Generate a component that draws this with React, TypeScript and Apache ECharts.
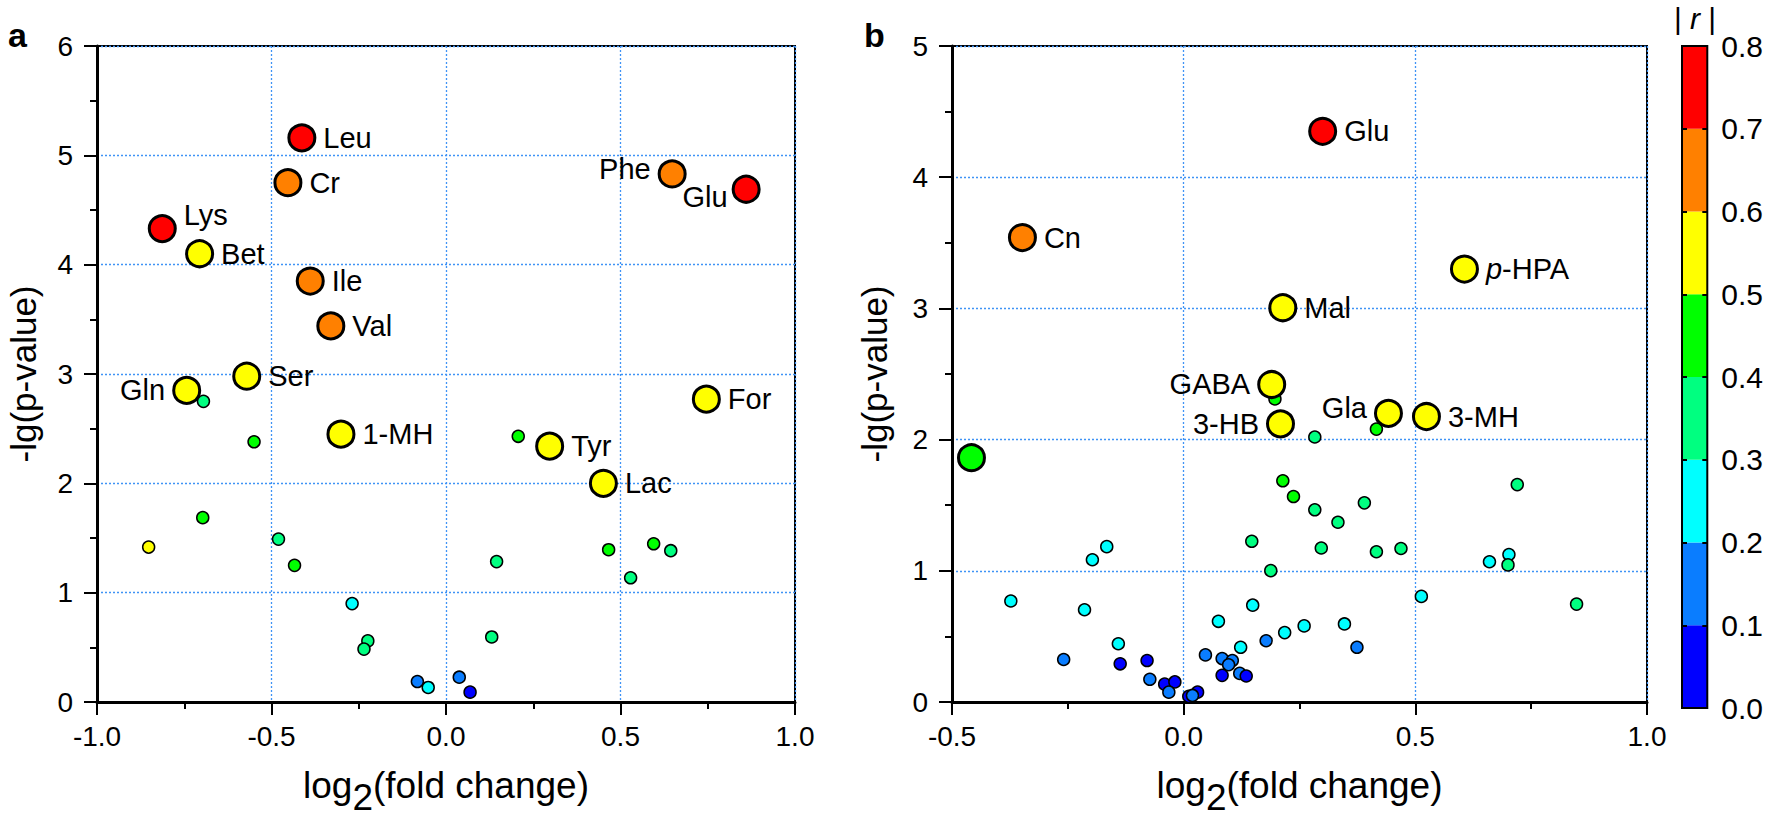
import React, { useEffect, useRef } from "react";
import * as echarts from "echarts";

const FONT = "'Liberation Sans', Arial, Helvetica, sans-serif";
const GRID_COLOR = "#3f93f5";

// colour bins of |r| (0.0 - 0.8, step 0.1)
const BIN_COLORS = ["#0000ff", "#0a7dff", "#00ffff", "#00ff80", "#00ff00", "#ffff00", "#ff8000", "#ff0000"];
const BIN_STEPS = [0.1, 0.1, 0.1, 0.1, 0.1, 0.1, 0.1, 0.1];

// ---------- panel a ----------
const aBigNames = ["Leu", "Cr", "Lys", "Bet", "Ile", "Val", "Ser", "Gln", "1-MH", "Tyr", "Lac", "For", "Phe", "Glu"];
const aBigX = [-0.413, -0.453, -0.813, -0.706, -0.389, -0.33, -0.571, -0.743, -0.301, 0.297, 0.451, 0.746, 0.648, 0.86];
const aBigY = [5.16, 4.75, 4.33, 4.1, 3.85, 3.44, 2.98, 2.85, 2.45, 2.34, 2.0, 2.77, 4.83, 4.69];
const aBigR = [0.75, 0.65, 0.75, 0.55, 0.65, 0.65, 0.55, 0.55, 0.55, 0.55, 0.55, 0.55, 0.65, 0.75];

const aSmallX = [-0.695, -0.55, 0.207, -0.697, -0.852, -0.48, -0.434, 0.145, 0.466, 0.595, 0.644, 0.529, -0.269, -0.224, -0.235, 0.131, -0.082, -0.051, 0.038, 0.069];
const aSmallY = [2.75, 2.38, 2.43, 1.686, 1.417, 1.49, 1.25, 1.284, 1.393, 1.447, 1.384, 1.136, 0.9, 0.559, 0.484, 0.595, 0.187, 0.133, 0.227, 0.09];
const aSmallR = [0.35, 0.45, 0.45, 0.45, 0.55, 0.35, 0.45, 0.35, 0.45, 0.45, 0.35, 0.35, 0.25, 0.35, 0.35, 0.35, 0.15, 0.25, 0.15, 0.05];

// ---------- panel b ----------
const bBigNames = ["Glu", "Cn", "p-HPA", "Mal", "GABA", "3-HB", "Gla", "3-MH", ""];
const bBigX = [0.3, -0.348, 0.606, 0.214, 0.19, 0.209, 0.442, 0.524, -0.458];
const bBigY = [4.35, 3.54, 3.3, 3.005, 2.42, 2.12, 2.2, 2.176, 1.862];
const bBigR = [0.75, 0.65, 0.55, 0.55, 0.55, 0.55, 0.55, 0.55, 0.45];

const bSmallX = [-0.373, -0.197, -0.166, -0.214, -0.141, -0.259, -0.137, -0.079, -0.073, -0.041, -0.019, -0.032, 0.011, 0.03, 0.019, 0.047, 0.083, 0.105, 0.097, 0.083, 0.121, 0.135, 0.123, 0.075, 0.149, 0.178, 0.218, 0.26, 0.347, 0.374, 0.147, 0.188, 0.214, 0.237, 0.283, 0.333, 0.297, 0.39, 0.416, 0.469, 0.513, 0.283, 0.416, 0.197, 0.72, 0.66, 0.702, 0.7, 0.848];
const bSmallY = [0.77, 1.084, 1.184, 0.703, 0.444, 0.324, 0.291, 0.316, 0.173, 0.136, 0.153, 0.075, 0.043, 0.075, 0.05, 0.359, 0.331, 0.316, 0.284, 0.203, 0.218, 0.198, 0.417, 0.615, 0.738, 0.467, 0.529, 0.58, 0.595, 0.417, 1.225, 1.001, 1.686, 1.566, 1.465, 1.37, 1.174, 1.518, 1.145, 1.17, 0.805, 2.02, 2.08, 2.31, 1.657, 1.069, 1.124, 1.045, 0.746];
const bSmallR = [0.25, 0.25, 0.25, 0.25, 0.25, 0.15, 0.05, 0.05, 0.15, 0.05, 0.05, 0.15, 0.05, 0.05, 0.15, 0.15, 0.15, 0.15, 0.15, 0.05, 0.15, 0.05, 0.25, 0.25, 0.25, 0.15, 0.25, 0.25, 0.25, 0.15, 0.35, 0.35, 0.45, 0.45, 0.35, 0.35, 0.35, 0.35, 0.35, 0.35, 0.25, 0.35, 0.45, 0.45, 0.35, 0.25, 0.25, 0.35, 0.35];

// label placement (layout only)
const A_PLACE: Record<string, string> = { Lys: "rightUp", Gln: "left", Phe: "leftUp", Glu: "leftDown" };
const B_PLACE: Record<string, string> = { GABA: "left", "3-HB": "left", Gla: "leftUp" };

function colorOf(r: number): string {
  const i = Math.max(0, Math.min(BIN_COLORS.length - 1, Math.floor(r * 10 + 1e-9)));
  return BIN_COLORS[i];
}

function labelFor(name: string, place: string | undefined) {
  const base: any = {
    show: name !== "",
    fontSize: 29,
    fontFamily: FONT,
    color: "#000",
    distance: 7,
    formatter: name === "p-HPA" ? "{i|p}{n|-HPA}" : name,
    rich: {
      i: { fontSize: 29, fontFamily: FONT, fontStyle: "italic", color: "#000" },
      n: { fontSize: 29, fontFamily: FONT, color: "#000" },
    },
  };
  switch (place) {
    case "left":
      return { ...base, position: "left" };
    case "leftUp":
      return { ...base, position: "left", offset: [0, -5] };
    case "leftDown":
      return { ...base, position: "left", offset: [3, 8] };
    case "rightUp":
      return { ...base, position: "right", offset: [0, -14] };
    default:
      return { ...base, position: "right" };
  }
}

function bigData(names: string[], xs: number[], ys: number[], rs: number[], places: Record<string, string>) {
  return names.map((n, i) => ({ name: n, value: [xs[i], ys[i], rs[i]], label: labelFor(n, places[n]) }));
}
function smallData(xs: number[], ys: number[], rs: number[]) {
  return xs.map((x, i) => [x, ys[i], rs[i]]);
}

const tickStyle = { color: "#000", width: 2 };

function xAxisFor(gridIndex: number, min: number, max: number) {
  return {
    gridIndex,
    type: "value",
    min,
    max,
    interval: 0.5,
    axisLine: { onZero: false, lineStyle: { color: "#000", width: 3 } },
    axisTick: { length: 13, lineStyle: tickStyle },
    minorTick: { show: true, splitNumber: 2, length: 7, lineStyle: tickStyle },
    axisLabel: { fontSize: 28, color: "#000", fontFamily: FONT, margin: 20, formatter: (v: number) => v.toFixed(1) },
    splitLine: { show: true, lineStyle: { color: GRID_COLOR, type: [2, 2], width: 1.3 } },
    name: "{a|log}{s|2}{a|(fold change)}",
    nameLocation: "middle",
    nameGap: 65,
    nameTextStyle: {
      rich: {
        a: { fontSize: 37, fontFamily: FONT, color: "#000", verticalAlign: "top", lineHeight: 49 },
        s: { fontSize: 37, fontFamily: FONT, color: "#000", verticalAlign: "bottom", lineHeight: 49 },
      },
    },
  };
}

function yAxisFor(gridIndex: number, max: number, gap: number) {
  return {
    gridIndex,
    type: "value",
    min: 0,
    max,
    interval: 1,
    axisLine: { onZero: false, lineStyle: { color: "#000", width: 3 } },
    axisTick: { length: 13, lineStyle: tickStyle },
    minorTick: { show: true, splitNumber: 2, length: 7, lineStyle: tickStyle },
    axisLabel: { fontSize: 28, color: "#000", fontFamily: FONT, margin: 24 },
    splitLine: { show: true, lineStyle: { color: GRID_COLOR, type: [2, 2], width: 1.3 } },
    name: "-lg(p-value)",
    nameLocation: "middle",
    nameRotate: 90,
    nameGap: gap,
    nameTextStyle: { fontSize: 35, fontFamily: FONT, color: "#000" },
  };
}

export default function App() {
  const ref = useRef<HTMLDivElement>(null);
  useEffect(() => {
    document.body.style.margin = "0";
    if (!ref.current) return;
    const chart = echarts.init(ref.current, undefined, { renderer: "svg" });

    const smallSeries = (xi: number, xs: number[], ys: number[], rs: number[]) => ({
      type: "scatter",
      xAxisIndex: xi,
      yAxisIndex: xi,
      symbolSize: 12,
      data: smallData(xs, ys, rs),
      itemStyle: { color: (p: any) => colorOf(p.value[2]), borderColor: "#000", borderWidth: 1.5, opacity: 1 },
      z: 3,
    });
    const bigSeries = (xi: number, data: any[]) => ({
      type: "scatter",
      xAxisIndex: xi,
      yAxisIndex: xi,
      symbolSize: 26,
      data,
      itemStyle: { color: (p: any) => colorOf(p.value[2]), borderColor: "#000", borderWidth: 3, opacity: 1 },
      z: 4,
    });

    const barSeries = BIN_COLORS.map((c, i) => ({
      type: "bar",
      xAxisIndex: 2,
      yAxisIndex: 2,
      stack: "cb",
      barWidth: "100%",
      silent: true,
      data: [BIN_STEPS[i]],
      itemStyle: { color: c },
      z: 2,
    }));

    const option: any = {
      animation: false,
      backgroundColor: "#fff",
      grid: [
        { left: 97, right: 971, top: 46, bottom: 111, show: true, borderColor: "#000", borderWidth: 2, backgroundColor: "transparent" },
        { left: 952, right: 119, top: 46, bottom: 111, show: true, borderColor: "#000", borderWidth: 2, backgroundColor: "transparent" },
        { left: 1682, width: 27, top: 46, bottom: 113, show: true, borderColor: "#000", borderWidth: 2, backgroundColor: "transparent", z: 5 },
      ],
      xAxis: [
        xAxisFor(0, -1, 1),
        xAxisFor(1, -0.5, 1),
        { gridIndex: 2, type: "category", data: ["|r|"], show: false },
      ],
      yAxis: [
        yAxisFor(0, 6, 56),
        yAxisFor(1, 5, 60),
        {
          gridIndex: 2,
          type: "value",
          position: "right",
          min: 0,
          max: 0.8,
          interval: 0.1,
          axisLine: { show: false },
          axisTick: { show: true, inside: true, length: 5, lineStyle: tickStyle },
          axisLabel: { fontSize: 30, color: "#000", fontFamily: FONT, margin: 14, formatter: (v: number) => v.toFixed(1) },
          splitLine: { show: false },
          z: 6,
        },
        {
          gridIndex: 2,
          type: "value",
          position: "left",
          min: 0,
          max: 0.8,
          interval: 0.1,
          axisLine: { show: false },
          axisTick: { show: true, inside: true, length: 5, lineStyle: tickStyle },
          axisLabel: { show: false },
          splitLine: { show: false },
          z: 6,
        },
      ],
      series: [
        smallSeries(0, aSmallX, aSmallY, aSmallR),
        bigSeries(0, bigData(aBigNames, aBigX, aBigY, aBigR, A_PLACE)),
        smallSeries(1, bSmallX, bSmallY, bSmallR),
        bigSeries(1, bigData(bBigNames, bBigX, bBigY, bBigR, B_PLACE)),
        ...barSeries,
      ],
      graphic: [
        { type: "text", left: 8, top: 18, style: { text: "a", fontSize: 34, fontWeight: "bold", fontFamily: FONT, fill: "#000" } },
        { type: "text", left: 864, top: 18, style: { text: "b", fontSize: 34, fontWeight: "bold", fontFamily: FONT, fill: "#000" } },
        {
          type: "text",
          x: 1695,
          y: 18,
          style: {
            text: "{n|| }{i|r}{n| |}",
            align: "center",
            verticalAlign: "middle",
            rich: {
              n: { fontSize: 30, fontFamily: FONT, fill: "#000" },
              i: { fontSize: 30, fontFamily: FONT, fontStyle: "italic", fill: "#000" },
            },
          },
        },
      ],
    };
    chart.setOption(option);
    return () => chart.dispose();
  }, []);
  return <div ref={ref} style={{ width: 1766, height: 821 }} />;
}
